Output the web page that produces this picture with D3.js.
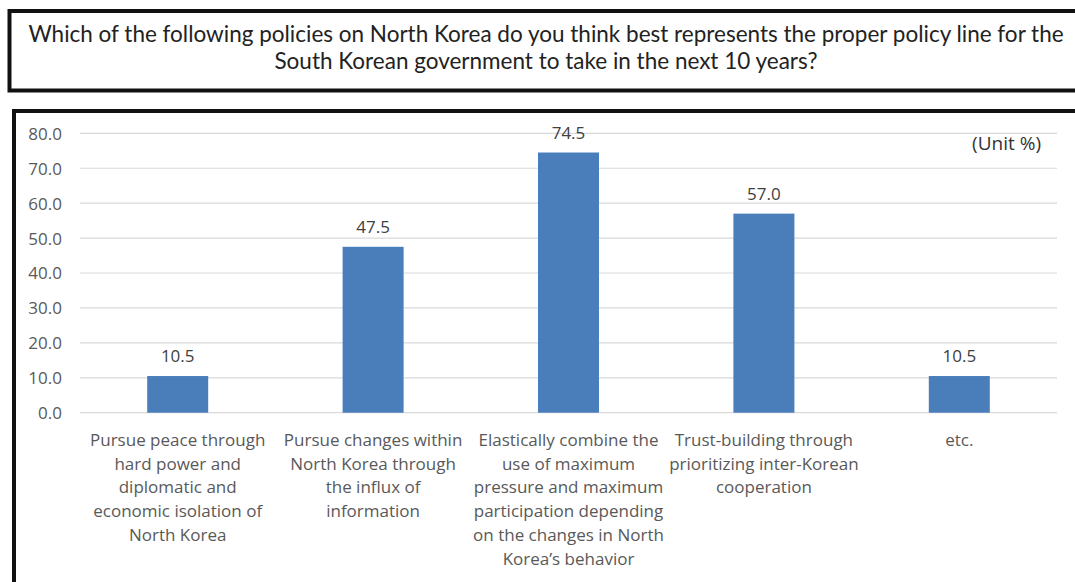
<!DOCTYPE html>
<html><head><meta charset="utf-8">
<script src="https://cdn.jsdelivr.net/npm/d3@7"></script>
<style>body{margin:0;background:#fff;} svg{display:block;}</style>
</head><body>
<svg id="chart" width="1075" height="582"></svg>
<script>
const titleLines = ["Which of the following policies on North Korea do you think best represents the proper policy line for the",
  "South Korean government to take in the next 10 years?"];
const categories = ["hard", "info", "combine", "trust", "etc"];
const categoryLabels = [
  ["Pursue peace through", "hard power and", "diplomatic and", "economic isolation of", "North Korea"],
  ["Pursue changes within", "North Korea through", "the influx of", "information"],
  ["Elastically combine the", "use of maximum", "pressure and maximum", "participation depending", "on the changes in North", "Korea\u2019s behavior"],
  ["Trust-building through", "prioritizing inter-Korean", "cooperation"],
  ["etc."]
];
const values = [10.5, 47.5, 74.5, 57.0, 10.5];
const yTicks = [0, 10, 20, 30, 40, 50, 60, 70, 80];
const unitLabel = "(Unit %)";

const svg = d3.select("#chart");
const titleFont = "Lato, sans-serif";
const font = "'Open Sans', sans-serif";

// title box
svg.append("rect").attr("x", 9.5).attr("y", 11).attr("width", 1075).attr("height", 79.5)
  .attr("fill", "#fff").attr("stroke", "#111").attr("stroke-width", 4);
titleLines.forEach((t, i) => {
  svg.append("text").attr("x", 546).attr("y", 42 + i * 27).attr("text-anchor", "middle")
    .attr("font-family", titleFont).attr("font-size", 22.5).attr("fill", "#222").text(t);
});

// chart box
svg.append("rect").attr("x", 14).attr("y", 111).attr("width", 1075).attr("height", 500)
  .attr("fill", "#fff").attr("stroke", "#111").attr("stroke-width", 4);

const x = d3.scaleBand().domain(categories).range([80, 1057]).paddingInner(0).paddingOuter(0);
const y = d3.scaleLinear().domain([0, 80]).range([412.7, 133.3]);

// gridlines
svg.append("g").selectAll("line").data(yTicks).join("line")
  .attr("x1", 80).attr("x2", 1057)
  .attr("y1", d => y(d)).attr("y2", d => y(d))
  .attr("stroke", "#d9d9d9").attr("stroke-width", 1.2);

// y axis labels
const yAxis = d3.axisLeft(y).tickValues(yTicks).tickFormat(d3.format(".1f")).tickSize(0).tickPadding(0);
const gy = svg.append("g").attr("transform", "translate(62,0)").call(yAxis);
gy.select(".domain").remove();
gy.selectAll("text").attr("font-family", font).attr("font-size", 17).attr("fill", "#595959").attr("dy", "0.35em");

// bars
const barW = 61;
svg.append("g").selectAll("rect").data(values).join("rect")
  .attr("x", (d, i) => x(categories[i]) + x.bandwidth() / 2 - barW / 2)
  .attr("y", d => y(d)).attr("width", barW).attr("height", d => y(0) - y(d))
  .attr("fill", "#4a7ebb");

// data labels
svg.append("g").selectAll("text").data(values).join("text")
  .attr("x", (d, i) => x(categories[i]) + x.bandwidth() / 2)
  .attr("y", d => y(d) - 14).attr("text-anchor", "middle")
  .attr("font-family", font).attr("font-size", 17).attr("fill", "#404040")
  .text(d => d3.format(".1f")(d));

// category labels
categories.forEach((c, i) => {
  const t = svg.append("text").attr("text-anchor", "middle")
    .attr("font-family", font).attr("font-size", 17).attr("fill", "#595959");
  categoryLabels[i].forEach((ln, j) => {
    t.append("tspan").attr("x", x(c) + x.bandwidth() / 2).attr("y", 446 + j * 23.7).text(ln);
  });
});

// unit label
svg.append("text").attr("x", 1041).attr("y", 150).attr("text-anchor", "end")
  .attr("font-family", font).attr("font-size", 19).attr("fill", "#333").text(unitLabel);
</script>
</body></html>
